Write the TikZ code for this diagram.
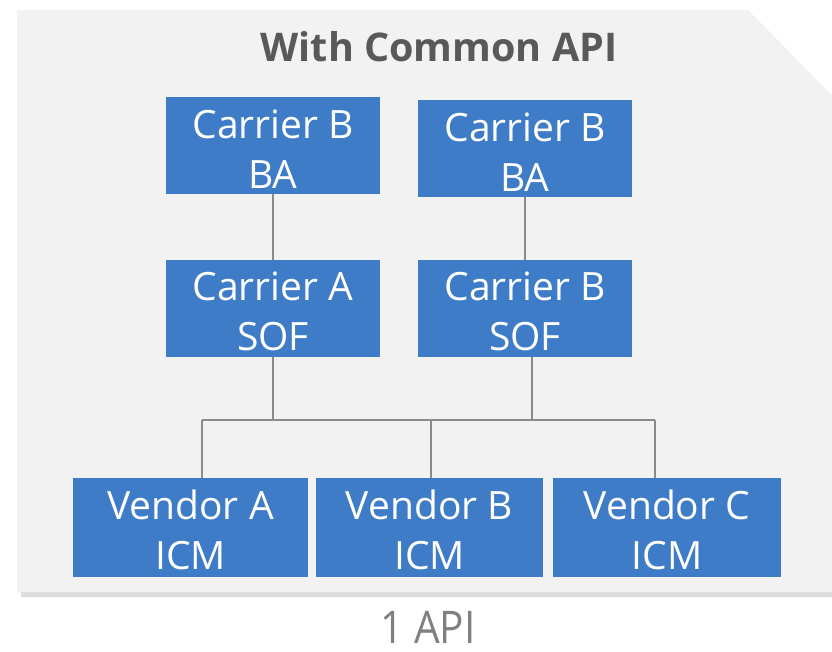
\documentclass[tikz,border=0pt]{standalone}
\usepackage{fontspec}
\setmainfont{Open Sans}
\usepackage{graphicx}
\definecolor{panelgray}{HTML}{F2F2F2}
\definecolor{shadowgray}{HTML}{DCDCDC}
\definecolor{boxblue}{HTML}{3E7CC7}
\definecolor{linkgray}{HTML}{8A8A8A}
\definecolor{titlegray}{HTML}{595959}
\definecolor{notegray}{HTML}{808080}
% two centred lines, first one strutted
\newcommand{\twolines}[2]{\rule{0pt}{35pt}#1\\#2}
\begin{document}
\begin{tikzpicture}[x=1pt,y=-1pt,
    unit/.style={fill=boxblue, text=white, align=center, inner sep=0pt,
        minimum height=97pt, font=\fontsize{39}{50}\selectfont},
    link/.style={draw=linkgray, line width=2pt}]
    \useasboundingbox (0,0) rectangle (832,651);
    \fill[white] (0,0) rectangle (832,651);
    % panel with cut corner and shadow
    \fill[shadowgray] (21,16) -- (752,16) -- (832,96) -- (832,597) -- (21,597) -- cycle;
    \fill[panelgray] (17,10) -- (748,10) -- (832,95) -- (832,592) -- (17,592) -- cycle;
    \node[text=titlegray, font=\fontsize{39.5}{44}\bfseries\selectfont] (title) at (439,47) {With Common API};

    \node[unit, minimum width=214pt] (baL) at (273,145.5) {\twolines{Carrier B}{BA}};
    \node[unit, minimum width=214pt] (baR) at (525,148.5) {\twolines{Carrier B}{BA}};
    \node[unit, minimum width=214pt] (sofA) at (273,308.5) {\twolines{Carrier A}{SOF}};
    \node[unit, minimum width=214pt] (sofB) at (525,308.5) {\twolines{Carrier B}{SOF}};

    \node[unit, minimum width=235pt, minimum height=99pt] (venA) at (190.5,527.5) {\twolines{Vendor A}{ICM}};
    \node[unit, minimum width=227pt, minimum height=99pt] (venB) at (429.5,527.5) {\twolines{Vendor B}{ICM}};
    \node[unit, minimum width=228pt, minimum height=99pt] (venC) at (667,527.5) {\twolines{Vendor C}{ICM}};

    \coordinate (busL) at (202,420);
    \coordinate (busR) at (655,420);

    \draw[link] (baL.south) -- (sofA.north);
    \draw[link] (baR.south) -- (sofB.north);
    \draw[link] (sofA.south) -- (sofA.south |- busL);
    \draw[link] ([xshift=7pt]sofB.south) -- ([xshift=7pt]sofB.south |- busL);
    \draw[link] (busL) -- (busR);
    \draw[link] (busL) -- (busL |- venA.north);
    \draw[link] ([xshift=1.5pt]venB.north |- busL) -- ([xshift=1.5pt]venB.north);
    \draw[link] (busR) -- (busR |- venC.north);

    \node[text=notegray, font=\fontsize{45}{48}\selectfont, inner sep=0pt] (note) at (428,627) {\scalebox{0.9}[1]{1 API}};
\end{tikzpicture}
\end{document}
